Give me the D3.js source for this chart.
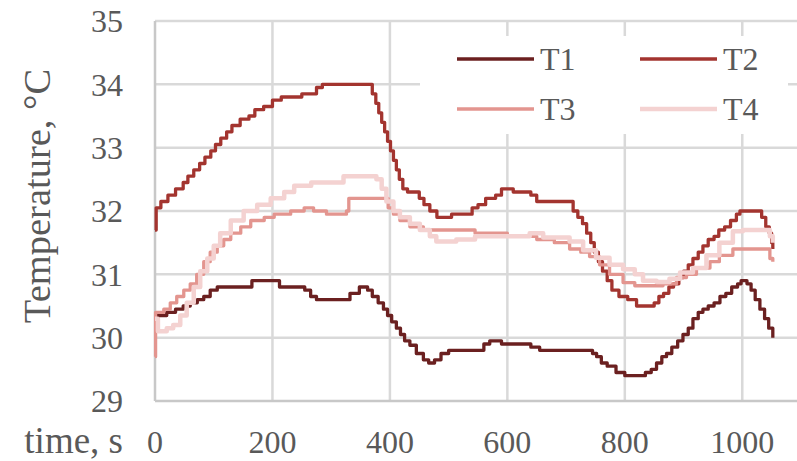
<!DOCTYPE html>
<html><head><meta charset="utf-8">
<script src="https://cdn.jsdelivr.net/npm/d3@7/dist/d3.min.js"></script>
<style>html,body{margin:0;padding:0;background:#fff;}svg{display:block;}</style>
</head><body>
<svg id="chart" width="797" height="461"></svg>
<script>
const seriesNames = ["T1","T2","T3","T4"];
const seriesColors = ["#6b2020","#a3342f","#e3958f","#f4d2d1"];
const xTicks = [0,200,400,600,800,1000];
const yTicks = [29,30,31,32,33,34,35];

const t1Time = [0,5,20,35,48,60,72,83,94,106,165,212,255,265,275,332,348,362,370,380,389,396,403,411,418,425,434,445,457,466,476,487,500,560,570,590,640,655,745,752,760,770,785,800,835,845,854,863,871,880,890,899,908,916,925,933,942,952,962,972,982,992,998,1008,1015,1022,1030,1038,1045,1052];
const t1Vals = [30.25,30.35,30.4,30.45,30.5,30.55,30.6,30.65,30.75,30.8,30.9,30.8,30.75,30.65,30.6,30.7,30.8,30.75,30.65,30.55,30.45,30.35,30.25,30.15,30.05,29.95,29.88,29.75,29.65,29.6,29.65,29.75,29.8,29.9,29.95,29.9,29.85,29.8,29.75,29.7,29.6,29.55,29.45,29.4,29.45,29.5,29.6,29.7,29.75,29.85,29.95,30.05,30.15,30.3,30.4,30.45,30.5,30.55,30.65,30.7,30.8,30.85,30.9,30.85,30.75,30.6,30.45,30.3,30.15,30.0];

const t2Time = [0,2,10,22,35,48,56,66,76,85,95,103,112,122,131,145,160,170,185,200,215,250,275,285,363,370,376,381,386,391,396,401,406,411,416,422,430,450,458,468,480,505,540,550,563,580,590,610,640,650,700,712,720,728,735,742,748,755,762,770,778,790,805,820,850,858,866,875,883,892,900,908,916,925,933,942,952,960,970,980,990,996,1027,1033,1040,1046,1050,1052];
const t2Vals = [31.7,32.05,32.15,32.25,32.35,32.45,32.55,32.65,32.75,32.85,32.95,33.05,33.15,33.25,33.35,33.45,33.5,33.6,33.65,33.75,33.8,33.85,33.95,34.0,34.0,33.85,33.7,33.55,33.4,33.25,33.1,32.95,32.8,32.65,32.5,32.35,32.3,32.2,32.1,32.0,31.9,31.95,32.05,32.1,32.2,32.25,32.35,32.3,32.25,32.15,32.15,32.0,31.9,31.8,31.65,31.5,31.35,31.2,31.05,30.9,30.75,30.65,30.6,30.5,30.55,30.65,30.7,30.8,30.85,30.95,31.05,31.15,31.25,31.35,31.45,31.55,31.6,31.7,31.75,31.85,31.95,32.0,32.0,31.9,31.75,31.65,31.5,31.4];

const t3Time = [0,1,15,26,37,49,60,71,83,94,106,117,129,146,163,186,203,231,254,270,292,326,330,389,397,406,417,434,457,545,600,650,680,706,725,740,757,774,797,817,865,888,905,922,945,961,984,1035,1047,1052];
const t3Vals = [29.7,30.4,30.45,30.55,30.65,30.75,30.85,31.0,31.2,31.35,31.45,31.55,31.65,31.75,31.85,31.9,31.95,32.0,32.05,32.0,31.95,32.0,32.2,32.2,32.05,31.95,31.85,31.75,31.7,31.65,31.6,31.55,31.5,31.4,31.35,31.28,31.15,31.0,30.87,30.82,30.85,30.95,31.0,31.1,31.2,31.3,31.4,31.4,31.25,31.2];

const t4Time = [0,5,20,31,43,54,66,77,89,100,111,129,151,174,197,220,237,266,300,321,366,377,386,394,406,417,434,451,468,479,513,545,638,661,706,729,751,774,797,817,831,854,876,894,916,939,961,984,1001,1032,1047,1052];
const t4Vals = [30.3,30.1,30.15,30.2,30.35,30.55,30.8,31.05,31.25,31.45,31.65,31.85,32.0,32.1,32.2,32.3,32.4,32.45,32.45,32.55,32.55,32.5,32.35,32.15,32.0,31.9,31.8,31.7,31.6,31.52,31.55,31.6,31.65,31.58,31.52,31.38,31.26,31.15,31.08,31.0,30.9,30.88,30.93,31.03,31.1,31.3,31.5,31.68,31.7,31.7,31.6,31.5];

const seriesTimes = [t1Time,t2Time,t3Time,t4Time];
const seriesVals = [t1Vals,t2Vals,t3Vals,t4Vals];
const strokeW = [3.3,3.3,3.3,4.5];

const svg = d3.select("#chart");
const x = d3.scaleLinear().domain([0,1100]).range([155,801]);
const y = d3.scaleLinear().domain([29,35]).range([401,21]);
const textColor = "#595959";
const serif = "'Liberation Serif','Times New Roman',serif";

// gridlines
svg.append("g").selectAll("line.v").data(xTicks.slice(1)).join("line")
  .attr("x1",d=>x(d)).attr("x2",d=>x(d)).attr("y1",y(35)).attr("y2",y(29))
  .attr("stroke","#d9d9d9").attr("stroke-width",2.5);
svg.append("g").selectAll("line.h").data(yTicks.slice(1)).join("line")
  .attr("x1",x(0)).attr("x2",797).attr("y1",d=>y(d)).attr("y2",d=>y(d))
  .attr("stroke","#d9d9d9").attr("stroke-width",2.5);
// axes lines
svg.append("line").attr("x1",x(0)).attr("x2",x(0)).attr("y1",y(35)).attr("y2",y(29))
  .attr("stroke","#c8c8c8").attr("stroke-width",2.5);
svg.append("line").attr("x1",x(0)).attr("x2",797).attr("y1",y(29)).attr("y2",y(29))
  .attr("stroke","#c8c8c8").attr("stroke-width",2.5);

// tick labels
svg.append("g").selectAll("text").data(yTicks).join("text")
  .attr("x",123).attr("y",d=>y(d)).attr("dy","0.35em").attr("text-anchor","end")
  .attr("font-family",serif).attr("font-size",32).attr("fill",textColor).text(d=>d);
svg.append("g").selectAll("text").data(xTicks).join("text")
  .attr("x",d=>x(d)).attr("y",453).attr("text-anchor","middle")
  .attr("font-family",serif).attr("font-size",32).attr("fill",textColor).text(d=>d);

// titles
svg.append("text").attr("x",123).attr("y",453).attr("text-anchor","end")
  .attr("font-family",serif).attr("font-size",37).attr("fill",textColor).text("time, s");
svg.append("text").attr("transform","translate(50,196) rotate(-90)").attr("text-anchor","middle")
  .attr("font-family",serif).attr("font-size",38.5).attr("fill",textColor).text("Temperature, °C");

// lines
const line = d3.line().x(d=>x(d[0])).y(d=>y(d[1])).curve(d3.curveStepAfter);
seriesNames.forEach((n,i)=>{
  const pts = seriesTimes[i].map((t,j)=>[t,seriesVals[i][j]]);
  svg.append("path").datum(pts).attr("d",line).attr("fill","none")
    .attr("stroke",seriesColors[i]).attr("stroke-width",strokeW[i]).attr("stroke-linejoin","round");
});

// legend
const lg = svg.append("g");
lg.append("rect").attr("x",420).attr("y",36).attr("width",368).attr("height",98).attr("fill","#fff");
const lx = [457,640], ly = [59,109];
seriesNames.forEach((n,i)=>{
  const cx = lx[i%2], cy = ly[Math.floor(i/2)];
  lg.append("line").attr("x1",cx).attr("x2",cx+77).attr("y1",cy).attr("y2",cy)
    .attr("stroke",seriesColors[i]).attr("stroke-width",strokeW[i]);
  lg.append("text").attr("x",cx+83).attr("y",cy).attr("dy","0.35em")
    .attr("font-family",serif).attr("font-size",32).attr("fill",textColor).text(n);
});
</script>
</body></html>
